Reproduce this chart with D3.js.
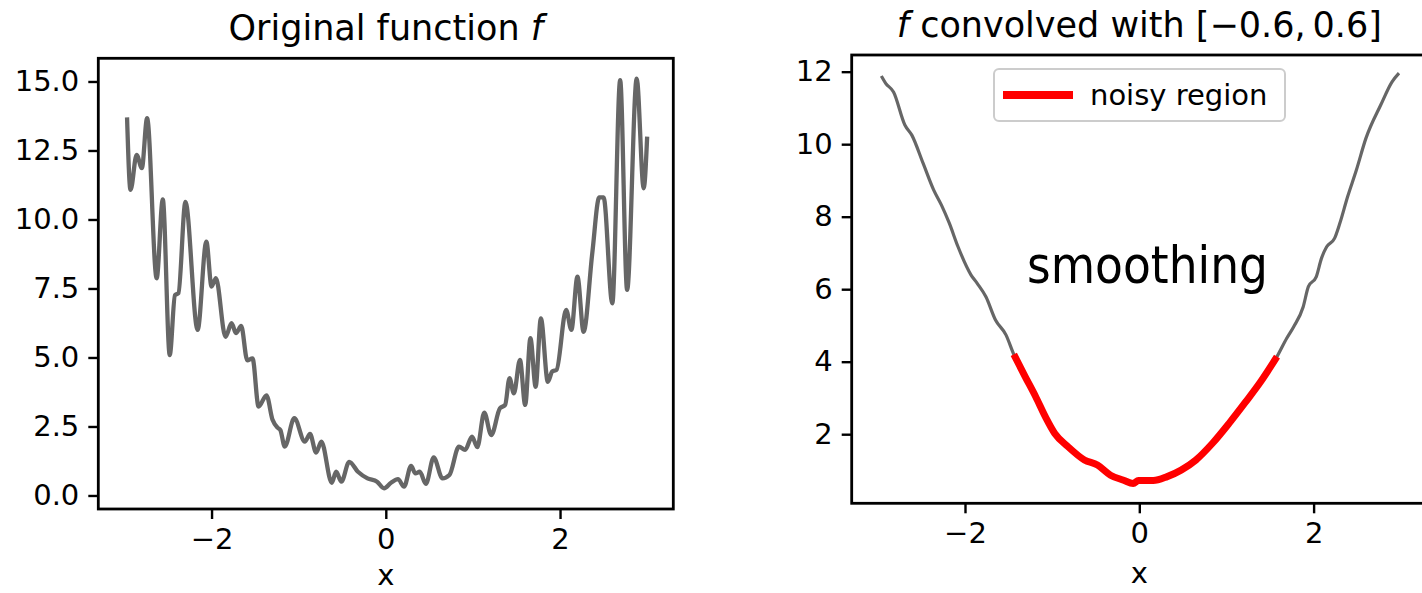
<!DOCTYPE html>
<html>
<head>
<meta charset="utf-8">
<script src="https://cdn.jsdelivr.net/npm/d3@7"></script>
<style>
  body { margin: 0; background: #fff; }
  text { font-family: "DejaVu Sans", sans-serif; fill: #000; }
</style>
</head>
<body>
<div id="chart"></div>
<script>
//////////////////////////////////////////////////////////////////////////////
// Data

// original noisy function f
var fX = [-2.97, -2.93, -2.86, -2.80, -2.74, -2.63, -2.56, -2.48, -2.42, -2.38,
          -2.30, -2.16, -2.06, -2.00, -1.95, -1.84, -1.77, -1.72, -1.66, -1.59,
          -1.53, -1.46, -1.37, -1.30, -1.24, -1.21, -1.16, -1.05, -0.93, -0.87,
          -0.80, -0.74, -0.62, -0.57, -0.51, -0.42, -0.32, -0.21, -0.10, -0.02,
           0.06,  0.14,  0.21,  0.29,  0.34,  0.39,  0.46,  0.55,  0.65,  0.73,
           0.84,  0.91,  0.99,  1.05,  1.13,  1.21,  1.31,  1.37,  1.42,  1.47,
           1.54,  1.60,  1.66,  1.72,  1.78,  1.86,  1.91,  1.96,  2.07,  2.13,
           2.20,  2.27,  2.37,  2.45,  2.50,  2.60,  2.69,  2.77,  2.88,  2.96,
           3.00];
var fY = [13.70, 11.07, 12.34, 11.86, 13.67,  7.87, 10.73,  5.09,  7.26,  7.33,
          10.64,  6.00,  9.20,  7.57,  7.87,  5.75,  6.24,  5.88,  6.14,  4.90,
           4.97,  3.22,  3.63,  2.74,  2.45,  2.37,  1.77,  2.80,  1.95,  2.23,
           1.55,  1.95,  0.46,  0.86,  0.50,  1.22,  0.86,  0.62,  0.50,  0.26,
           0.46,  0.59,  0.32,  1.07,  0.80,  0.86,  0.42,  1.38,  0.62,  0.74,
           1.77,  1.65,  2.13,  1.75,  3.00,  2.19,  3.16,  3.28,  4.25,  3.70,
           4.91,  3.28,  5.70,  3.94,  6.42,  4.12,  4.49,  4.55,  6.72,  6.00,
           7.93,  5.93,  8.78, 10.80, 10.80,  6.96, 15.05,  7.45, 15.10, 11.13,
          13.00];

// f convolved with [-0.6, 0.6]
var gX = [-2.96, -2.91, -2.82, -2.69, -2.61, -2.48, -2.36, -2.27, -2.18, -2.08,
          -1.93, -1.86, -1.76, -1.65, -1.53, -1.44, -1.31, -1.19, -1.08, -0.97,
          -0.82, -0.63, -0.48, -0.33, -0.18, -0.07, -0.01,  0.16,  0.32,  0.48,
           0.65,  0.84,  1.03,  1.22,  1.39,  1.58,  1.69,  1.77,  1.88,  1.94,
           2.03,  2.09,  2.15,  2.24,  2.30,  2.39,  2.49,  2.60,  2.77,  2.90,
           2.98];
var gY = [11.88, 11.68, 11.44, 10.53, 10.25,  9.47,  8.74,  8.32,  7.82,  7.17,
           6.39,  6.16,  5.79,  5.15,  4.74,  4.20,  3.59,  3.04,  2.49,  2.02,
           1.66,  1.29,  1.15,  0.87,  0.73,  0.64,  0.72,  0.72,  0.83,  1.01,
           1.29,  1.75,  2.30,  2.89,  3.44,  4.14,  4.64,  4.96,  5.51,  6.07,
           6.34,  6.85,  7.17,  7.40,  7.81,  8.55,  9.28, 10.16, 11.08, 11.72,
          11.96];
var noisyRange = [-1.44, 1.58];

var xTicks = [-2, 0, 2];
var leftYTicks = [0, 2.5, 5, 7.5, 10, 12.5, 15];
var rightYTicks = [2, 4, 6, 8, 10, 12];

var leftTitle = "Original function ";
var rightTitle = " convolved with [\u22120.6,\u20090.6]";
var legendLabel = "noisy region";
var noteText = "smoothing";

//////////////////////////////////////////////////////////////////////////////
// Layout

var width = 1422, height = 593;
var grey = "#666666", red = "#ff0000";
var tickFont = 29, titleFont = 35;

var left  = {x0: 98.3,  x1: 673.3,  y0: 58.3, y1: 509,   labelY: 585, xDom: [-3.3, 3.3], yDom: [-0.49, 15.84]};
var right = {x0: 851.7, x1: 1426.9, y0: 55,   y1: 503.3, labelY: 583, xDom: [-3.3, 3.3], yDom: [0.094, 12.46]};

var svg = d3.select("#chart").append("svg")
    .attr("width", width)
    .attr("height", height);

function minusFmt(d) {
    return d < 0 ? "\u2212" + Math.abs(d) : String(d);
}

function drawAxes(p, yTicks, yFmt) {
    var x = d3.scaleLinear().domain(p.xDom).range([p.x0, p.x1]);
    var y = d3.scaleLinear().domain(p.yDom).range([p.y1, p.y0]);

    var gx = svg.append("g")
        .attr("transform", "translate(0," + p.y1 + ")")
        .call(d3.axisBottom(x).tickValues(xTicks).tickSize(10).tickPadding(9).tickFormat(minusFmt));
    var gy = svg.append("g")
        .attr("transform", "translate(" + p.x0 + ",0)")
        .call(d3.axisLeft(y).tickValues(yTicks).tickSize(10).tickPadding(9).tickFormat(yFmt));

    [gx, gy].forEach(function(g) {
        g.select(".domain").remove();
        g.selectAll(".tick line").attr("stroke", "#000").attr("stroke-width", 2.4);
        g.selectAll(".tick text")
            .attr("font-family", "DejaVu Sans")
            .attr("font-size", tickFont)
            .attr("fill", "#000");
    });

    // x label
    svg.append("text")
        .attr("x", x(0))
        .attr("y", p.labelY)
        .attr("text-anchor", "middle")
        .attr("font-size", tickFont)
        .text("x");

    p.x = x; p.y = y;
    return p;
}

function drawFrame(p) {
    svg.append("rect")
        .attr("x", p.x0).attr("y", p.y0)
        .attr("width", p.x1 - p.x0).attr("height", p.y1 - p.y0)
        .attr("fill", "none")
        .attr("stroke", "#000")
        .attr("stroke-width", 2.8);
}

function lineFor(p) {
    return d3.line()
        .x(function(d) { return p.x(d[0]); })
        .y(function(d) { return p.y(d[1]); })
        .curve(d3.curveMonotoneX);
}

//////////////////////////////////////////////////////////////////////////////
// Left panel: original function

drawAxes(left, leftYTicks, d3.format(".1f"));

var fData = fX.map(function(v, i) { return [v, fY[i]]; });
svg.append("path")
    .attr("d", lineFor(left)(fData))
    .attr("fill", "none")
    .attr("stroke", grey)
    .attr("stroke-width", 4.3)
    .attr("stroke-linejoin", "round");

drawFrame(left);

var t1 = svg.append("text")
    .attr("x", (left.x0 + left.x1) / 2)
    .attr("y", 40)
    .attr("text-anchor", "middle")
    .attr("font-size", titleFont);
t1.append("tspan").text(leftTitle);
t1.append("tspan").attr("font-style", "italic").text("f");

//////////////////////////////////////////////////////////////////////////////
// Right panel: convolved function

drawAxes(right, rightYTicks, d3.format("d"));

var gData = gX.map(function(v, i) { return [v, gY[i]]; });
svg.append("path")
    .attr("d", lineFor(right)(gData))
    .attr("fill", "none")
    .attr("stroke", grey)
    .attr("stroke-width", 3.2)
    .attr("stroke-linejoin", "round");

var redData = gData.filter(function(d) { return d[0] >= noisyRange[0] && d[0] <= noisyRange[1]; });
svg.append("path")
    .attr("d", lineFor(right)(redData))
    .attr("fill", "none")
    .attr("stroke", red)
    .attr("stroke-width", 7)
    .attr("stroke-linejoin", "round");

drawFrame(right);

var t2 = svg.append("text")
    .attr("x", right.x(0))
    .attr("y", 37)
    .attr("text-anchor", "middle")
    .attr("font-size", titleFont);
t2.append("tspan").attr("font-style", "italic").text("f");
t2.append("tspan").text(rightTitle);

// legend
var legend = svg.append("g").attr("transform", "translate(994,69)");
legend.append("rect")
    .attr("width", 291).attr("height", 52)
    .attr("rx", 5)
    .attr("fill", "#fff").attr("fill-opacity", 0.8)
    .attr("stroke", "#cccccc").attr("stroke-width", 2);
legend.append("line")
    .attr("x1", 9).attr("x2", 79)
    .attr("y1", 26).attr("y2", 26)
    .attr("stroke", red).attr("stroke-width", 8);
legend.append("text")
    .attr("x", 96).attr("y", 36)
    .attr("font-size", tickFont)
    .text(legendLabel);

// annotation
svg.append("text")
    .attr("x", 1027).attr("y", 283)
    .attr("font-family", "Lato, 'Open Sans', sans-serif")
    .attr("font-size", 52)
    .attr("textLength", 241)
    .attr("lengthAdjust", "spacingAndGlyphs")
    .text(noteText);
</script>
</body>
</html>
